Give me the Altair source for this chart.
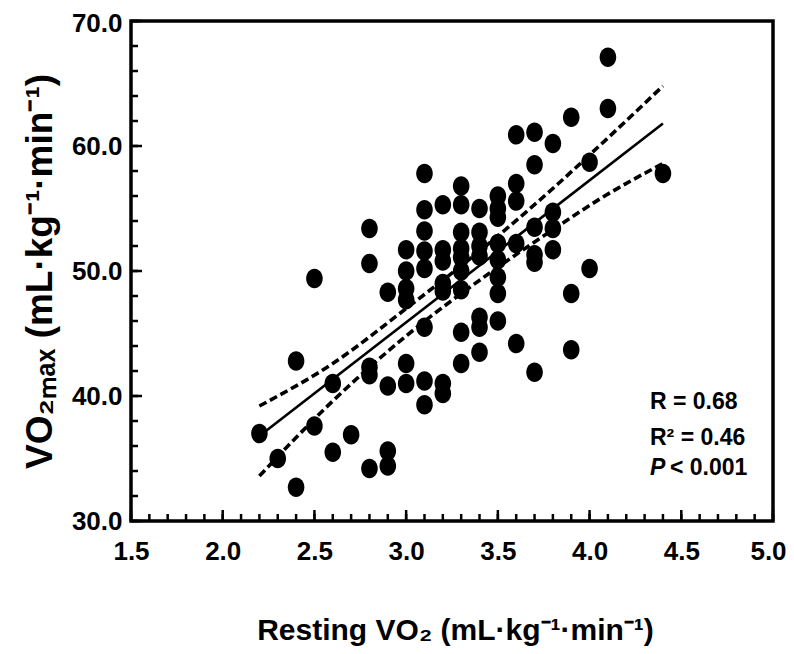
import altair as alt
import pandas as pd

# ---- data ----
resting = [2.2, 2.3, 2.4, 2.4, 2.5, 2.5, 2.6, 2.6, 2.7,
           2.8, 2.8, 2.8, 2.8, 2.8,
           2.9, 2.9, 2.9, 2.9,
           3.0, 3.0, 3.0, 3.0, 3.0, 3.0,
           3.1, 3.1, 3.1, 3.1, 3.1, 3.1, 3.1, 3.1,
           3.2, 3.2, 3.2, 3.2, 3.2, 3.2, 3.2,
           3.3, 3.3, 3.3, 3.3, 3.3, 3.3, 3.3, 3.3, 3.3,
           3.4, 3.4, 3.4, 3.4, 3.4, 3.4, 3.4,
           3.5, 3.5, 3.5, 3.5, 3.5, 3.5, 3.5, 3.5,
           3.6, 3.6, 3.6, 3.6, 3.6,
           3.7, 3.7, 3.7, 3.7, 3.7, 3.7,
           3.8, 3.8, 3.8, 3.8,
           3.9, 3.9, 3.9,
           4.0, 4.0,
           4.1, 4.1,
           4.4]
vo2max = [37.0, 35.0, 42.8, 32.7, 49.4, 37.6, 41.0, 35.5, 36.9,
          53.4, 50.6, 42.3, 41.7, 34.2,
          48.3, 40.8, 35.6, 34.4,
          51.7, 50.0, 48.6, 47.7, 42.6, 41.0,
          57.8, 54.9, 53.2, 51.6, 50.2, 45.5, 41.2, 39.3,
          55.3, 51.7, 50.8, 49.0, 48.4, 41.0, 40.2,
          56.8, 55.3, 53.1, 51.8, 51.1, 50.0, 48.5, 45.1, 42.6,
          55.0, 53.1, 52.0, 51.2, 46.3, 45.5, 43.5,
          56.0, 55.0, 54.3, 52.2, 50.9, 49.5, 48.2, 46.0,
          60.9, 57.0, 55.6, 52.2, 44.2,
          61.1, 58.5, 53.5, 51.3, 50.7, 41.9,
          60.2, 54.7, 53.4, 51.7,
          62.3, 48.2, 43.7,
          58.7, 50.2,
          67.1, 63.0,
          57.8]

fit_x = [2.2, 4.4]
fit_y = [36.8, 61.8]

band_x = [2.2, 2.6, 3.0, 3.5, 3.83, 4.06, 4.4]
band_upper = [39.2, 42.6, 47.0, 52.8, 57.0, 60.1, 64.8]
band_lower = [33.6, 39.6, 44.8, 50.3, 53.6, 55.8, 58.6]

x_labels = [1.5, 2.0, 2.5, 3.0, 3.5, 4.0, 4.5, 5.0]
y_labels = [30, 40, 50, 60, 70]
x_minor = [round(1.5 + 0.1 * i, 1) for i in range(36)]
y_minor = [30 + 2 * i for i in range(21)]

stats = ["R = 0.68", "R\u00b2 = 0.46"]
p_label = ["P", "< 0.001"]

x_title = "Resting VO\u2082 (mL\u00b7kg\u207b\u00b9\u00b7min\u207b\u00b9)"
y_title = "VO\u2082\u2098\u2090\u2093  (mL\u00b7kg\u207b\u00b9\u00b7min\u207b\u00b9)"

# ---- layout ----
W, H = 642, 500
FONT = "Liberation Sans Narrow, Arial Narrow, Liberation Sans, Arial, sans-serif"

xs = alt.Scale(domain=[1.5, 5.0], nice=False, zero=False)
ys = alt.Scale(domain=[30, 70], nice=False, zero=False)

pts = pd.DataFrame({"x": resting, "y": vo2max})
fit = pd.DataFrame({"x": fit_x, "y": fit_y})
band = pd.concat([
    pd.DataFrame({"x": band_x, "y": band_upper, "g": "upper"}),
    pd.DataFrame({"x": band_x, "y": band_lower, "g": "lower"}),
])

ellipse = "M0,-1A0.85,1 0 1,1 0,1A0.85,1 0 1,1 0,-1Z"

xaxis = alt.Axis(values=x_labels, format=".1f", ticks=False, domain=False, grid=False,
                 labelFont=FONT, labelFontSize=26, labelFontWeight="bold", labelColor="black",
                 labelPadding=17, labelFlush=False, labelBound=False,
                 labelOffset={"condition": {"test": "datum.value >= 5", "value": -5}, "value": 0},
                 title=x_title, titleFont=FONT, titleFontSize=30, titleFontWeight="bold",
                 titleColor="black", titleX=W / 2 + 3, titleY=118, titleBaseline="alphabetic",
                 titleAlign="center", titleAnchor="middle")
yaxis = alt.Axis(values=y_labels, format=".1f", ticks=False, domain=False, grid=False,
                 labelFont=FONT, labelFontSize=26, labelFontWeight="bold", labelColor="black",
                 labelPadding=9, labelFlush=False, labelBound=False,
                 labelOffset={"condition": {"test": "datum.value >= 70", "value": 2}, "value": 0},
                 title=y_title, titleFont=FONT, titleFontSize=37, titleFontWeight="bold",
                 titleColor="black", titleAngle=270, titleX=-91, titleY=H / 2,
                 titleAlign="center", titleBaseline="middle", titleAnchor="middle")

points = alt.Chart(pts).mark_point(filled=True, shape=ellipse, size=380, color="black",
                                   opacity=1, strokeWidth=0).encode(
    x=alt.X("x:Q", scale=xs, axis=xaxis),
    y=alt.Y("y:Q", scale=ys, axis=yaxis),
)

fit_line = alt.Chart(fit).mark_line(color="black", strokeWidth=2.6).encode(
    x=alt.X("x:Q", scale=xs, axis=xaxis),
    y=alt.Y("y:Q", scale=ys, axis=yaxis),
)

band_lines = alt.Chart(band).mark_line(color="black", strokeWidth=3.6, strokeDash=[8, 4],
                                       interpolate="monotone").encode(
    x=alt.X("x:Q", scale=xs, axis=xaxis),
    y=alt.Y("y:Q", scale=ys, axis=yaxis),
    detail="g:N",
)

xmaj = pd.DataFrame({"x": x_labels})
xmin = pd.DataFrame({"x": x_minor})
ymaj = pd.DataFrame({"y": y_labels})
ymin = pd.DataFrame({"y": y_minor})

xt_major = alt.Chart(xmaj).mark_rule(color="black", strokeWidth=2.5).encode(
    x=alt.X("x:Q", scale=xs, axis=xaxis), y=alt.value(H), y2=alt.value(H - 11))
xt_minor = alt.Chart(xmin).mark_rule(color="black", strokeWidth=2.5).encode(
    x=alt.X("x:Q", scale=xs, axis=xaxis), y=alt.value(H), y2=alt.value(H - 7))
yt_major = alt.Chart(ymaj).mark_rule(color="black", strokeWidth=2.5).encode(
    y=alt.Y("y:Q", scale=ys, axis=yaxis), x=alt.value(0), x2=alt.value(11))
yt_minor = alt.Chart(ymin).mark_rule(color="black", strokeWidth=2.5).encode(
    y=alt.Y("y:Q", scale=ys, axis=yaxis), x=alt.value(0), x2=alt.value(7))

stat_df = pd.DataFrame({"t": stats, "py": [387.5, 424.0]})
stat_text = alt.Chart(stat_df).mark_text(font=FONT, fontSize=23, fontWeight="bold",
                                         align="left", baseline="alphabetic",
                                         color="black").encode(
    text="t:N", x=alt.value(519), y=alt.Y("py:Q", scale=None))

p_text = alt.Chart(pd.DataFrame({"t": [p_label[0]]})).mark_text(
    font=FONT, fontSize=23, fontWeight="bold", fontStyle="italic", align="left",
    baseline="alphabetic", color="black").encode(text="t:N", x=alt.value(519), y=alt.value(454))
p_text2 = alt.Chart(pd.DataFrame({"t": [p_label[1]]})).mark_text(
    font=FONT, fontSize=23, fontWeight="bold", align="left",
    baseline="alphabetic", color="black").encode(text="t:N", x=alt.value(539), y=alt.value(454))

chart = alt.layer(
    band_lines, fit_line, points,
    xt_major, xt_minor, yt_major, yt_minor,
    stat_text, p_text, p_text2,
).properties(
    width=W, height=H,
    autosize=alt.AutoSizeParams(type="none"),
    padding={"left": 123, "top": 13, "right": 13, "bottom": 125},
    background="white",
).configure_view(stroke="black", strokeWidth=3.5)

chart.save("out.html", embed_options={"renderer": "svg", "actions": False})
